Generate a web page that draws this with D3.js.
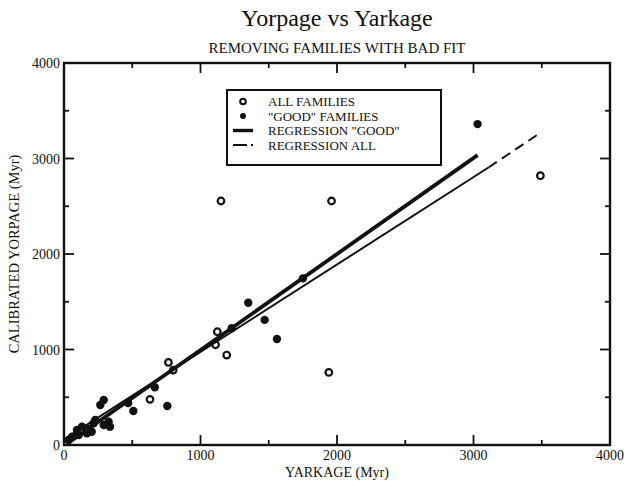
<!DOCTYPE html>
<html>
<head>
<meta charset="utf-8">
<script src="https://cdn.jsdelivr.net/npm/d3@7"></script>
<style>
  body { margin: 0; background: #fff; }
  svg text { font-family: "Liberation Serif", "Times New Roman", serif; fill: #111; }
</style>
</head>
<body>
<div id="container"></div>
<script>
const width = 627;
const height = 481;
const margin = { top: 63, right: 17, bottom: 36, left: 64 };

// Data (yarkage, yorpage) in Myr
const goodFamilies = [
  [34, 52], [59, 87], [95, 157], [108, 105], [132, 192], [168, 175], [168, 122],
  [203, 139], [217, 227], [229, 262], [266, 419], [291, 471], [291, 209],
  [327, 244], [337, 192], [470, 440], [508, 356], [665, 605], [757, 408],
  [1228, 1222], [1350, 1490], [1470, 1310], [1560, 1110], [1750, 1745], [3030, 3360]
];
const badFamilies = [
  [630, 478], [765, 865], [800, 785], [1110, 1050], [1123, 1186], [1192, 942],
  [1150, 2555], [1960, 2555], [1940, 760], [3490, 2820]
];
// regression end points
const regressionGood = [[20, 10], [3030, 3035]];
const regressionAll = [[20, 78], [3110, 2906]];
const regressionAllExt = [[3110, 2906], [3475, 3255]];

const xTicks = [0, 1000, 2000, 3000, 4000];
const yTicks = [0, 1000, 2000, 3000, 4000];
const minorTicks = [500, 1500, 2500, 3500];

const legendLabels = ["ALL FAMILIES", "\"GOOD\" FAMILIES", "REGRESSION \"GOOD\"", "REGRESSION ALL"];

const svg = d3.select("#container").append("svg")
  .attr("width", width)
  .attr("height", height);

const x = d3.scaleLinear().domain([0, 4000]).range([margin.left, width - margin.right]);
const y = d3.scaleLinear().domain([0, 4000]).range([height - margin.bottom, margin.top]);

// ticks on all four sides, pointing in
const tickG = svg.append("g").attr("stroke", "#111").attr("stroke-width", 1.8);
function addTicks(vals, len) {
  vals.forEach(v => {
    tickG.append("line").attr("x1", x(v)).attr("x2", x(v)).attr("y1", y(0)).attr("y2", y(0) - len);
    tickG.append("line").attr("x1", x(v)).attr("x2", x(v)).attr("y1", y(4000)).attr("y2", y(4000) + len);
    tickG.append("line").attr("y1", y(v)).attr("y2", y(v)).attr("x1", x(0)).attr("x2", x(0) + len);
    tickG.append("line").attr("y1", y(v)).attr("y2", y(v)).attr("x1", x(4000)).attr("x2", x(4000) - len);
  });
}
addTicks(xTicks.slice(1, -1), 10);
addTicks(minorTicks, 5);

svg.append("rect")
  .attr("x", x(0)).attr("y", y(4000))
  .attr("width", x(4000) - x(0)).attr("height", y(0) - y(4000))
  .attr("fill", "none").attr("stroke", "#111").attr("stroke-width", 2.4);

// tick labels
svg.append("g").selectAll("text").data(xTicks).join("text")
  .attr("x", d => x(d)).attr("y", y(0) + 15)
  .attr("text-anchor", "middle").attr("font-size", 14)
  .text(d => d);
svg.append("g").selectAll("text").data(yTicks).join("text")
  .attr("x", x(0) - 4).attr("y", d => y(d) + 5)
  .attr("text-anchor", "end").attr("font-size", 14)
  .text(d => d);

// axis titles
svg.append("text")
  .attr("x", (x(0) + x(4000)) / 2).attr("y", y(0) + 32)
  .attr("text-anchor", "middle").attr("font-size", 14)
  .text("YARKAGE (Myr)");
svg.append("text")
  .attr("transform", `translate(19, ${(y(0) + y(4000)) / 2}) rotate(-90)`)
  .attr("text-anchor", "middle").attr("font-size", 14.5)
  .text("CALIBRATED YORPAGE (Myr)");

// titles
svg.append("text")
  .attr("x", (x(0) + x(4000)) / 2).attr("y", 26)
  .attr("text-anchor", "middle").attr("font-size", 24)
  .text("Yorpage vs Yarkage");
svg.append("text")
  .attr("x", (x(0) + x(4000)) / 2).attr("y", 53)
  .attr("text-anchor", "middle").attr("font-size", 15)
  .text("REMOVING FAMILIES WITH BAD FIT");

const line = d3.line().x(d => x(d[0])).y(d => y(d[1]));

// points
svg.append("g").selectAll("circle").data(goodFamilies).join("circle")
  .attr("cx", d => x(d[0])).attr("cy", d => y(d[1]))
  .attr("r", 4.2).attr("fill", "#111");
svg.append("g").selectAll("circle").data(badFamilies).join("circle")
  .attr("cx", d => x(d[0])).attr("cy", d => y(d[1]))
  .attr("r", 3.3).attr("fill", "#fff").attr("stroke", "#111").attr("stroke-width", 2.2);

// regression lines
svg.append("path").datum(regressionAll).attr("d", line)
  .attr("fill", "none").attr("stroke", "#111").attr("stroke-width", 2);
svg.append("path").datum(regressionAllExt).attr("d", line)
  .attr("fill", "none").attr("stroke", "#111").attr("stroke-width", 2)
  .attr("stroke-dasharray", "10,6");
svg.append("path").datum(regressionGood).attr("d", line)
  .attr("fill", "none").attr("stroke", "#111").attr("stroke-width", 3.8);

// legend
const lg = svg.append("g").attr("transform", "translate(227, 90)");
lg.append("rect").attr("width", 214).attr("height", 75)
  .attr("fill", "#fff").attr("stroke", "#111").attr("stroke-width", 2);
const rowY = i => 11.5 + i * 14.5;
lg.append("circle").attr("cx", 16).attr("cy", rowY(0)).attr("r", 2.8)
  .attr("fill", "#fff").attr("stroke", "#111").attr("stroke-width", 2);
lg.append("circle").attr("cx", 16).attr("cy", rowY(1)).attr("r", 3).attr("fill", "#111");
lg.append("line").attr("x1", 6).attr("x2", 26).attr("y1", rowY(2)).attr("y2", rowY(2))
  .attr("stroke", "#111").attr("stroke-width", 3.4);
lg.append("line").attr("x1", 6).attr("x2", 20).attr("y1", rowY(3)).attr("y2", rowY(3))
  .attr("stroke", "#111").attr("stroke-width", 2);
lg.append("line").attr("x1", 24).attr("x2", 26).attr("y1", rowY(3)).attr("y2", rowY(3))
  .attr("stroke", "#111").attr("stroke-width", 2);
lg.selectAll("text.lab").data(legendLabels).join("text")
  .attr("class", "lab")
  .attr("x", 41).attr("y", (d, i) => rowY(i) + 4.5)
  .attr("font-size", 13)
  .text(d => d);
</script>
</body>
</html>
